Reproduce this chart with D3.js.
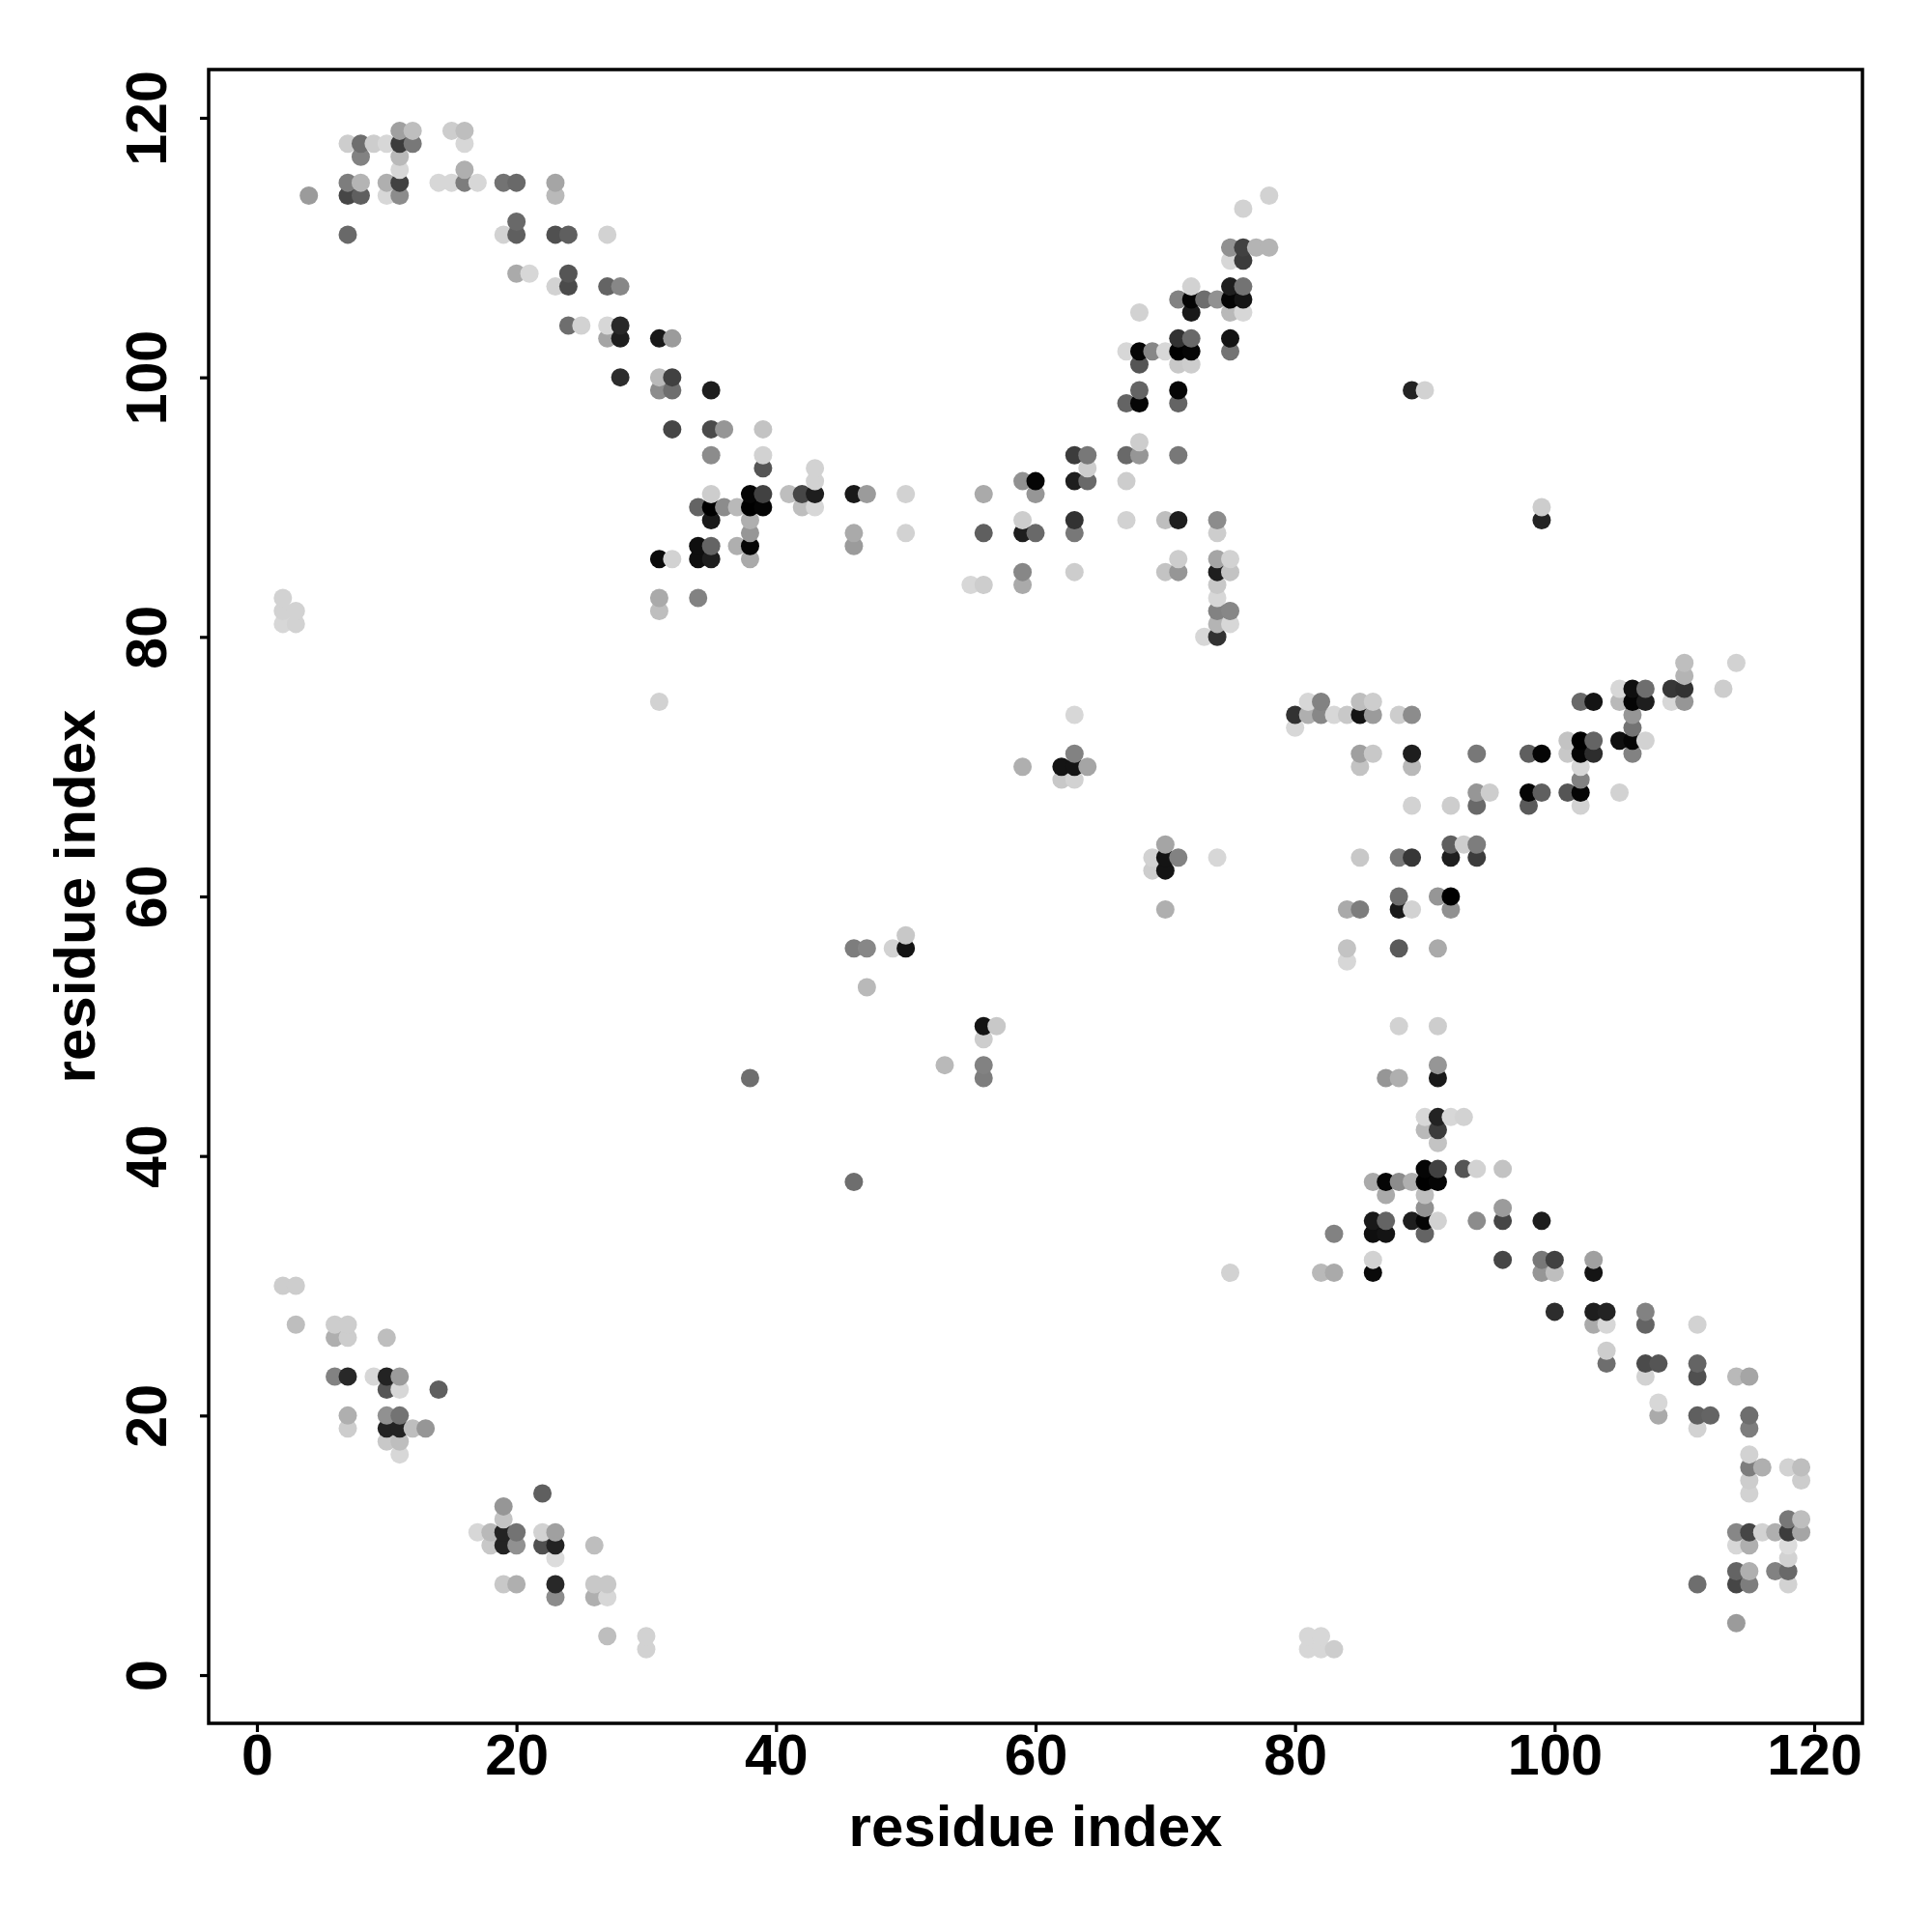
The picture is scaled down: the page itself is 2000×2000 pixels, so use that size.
<!DOCTYPE html>
<html>
<head>
<meta charset="utf-8">
<script src="https://cdn.jsdelivr.net/npm/d3@7"></script>
<style>
html,body{margin:0;padding:0;background:#fff}
svg{display:block}
text{font-family:"Liberation Sans",Arial,Helvetica,sans-serif;font-weight:bold;fill:#000}
</style>
</head>
<body>
<svg id="chart" width="2000" height="2000"></svg>
<script>
const axisLabel = "residue index";
const tickLabels = [0, 20, 40, 60, 80, 100, 120];
const axisLimits = [-3.72, 123.72];

// One row per residue index on the y axis; rowX and rowShade hold that row's points.
const rowY = [119,118,117,116,115,114,113,112,111,110,109,108,107,106,105,104,103,102,101,100,
  99,98,96,95,94,93,92,91,90,89,88,87,86,85,84,83,82,81,80,
  78,77,76,75,74,73,72,71,70,69,68,67,64,63,62,60,59,57,56,55,53,50,49,47,46,
  43,42,41,39,38,37,36,35,34,32,31,30,28,27,26,25,24,23,22,21,20,19,18,17,16,15,14,13,12,11,10,9,8,7,6,4,3,2];

const rowX = [
  [11,12,15,16],
  [7,8,9,10,11,12,16],
  [8,11],
  [11,16],
  [7,8,10,11,14,15,16,17,19,20,23],
  [4,7,8,10,11,23,78],
  [76],
  [20],
  [7,19,20,23,24,27],
  [75,76,77,78],
  [75,76],
  [20,21,24],
  [23,24,27,28,72,75,76],
  [71,72,73,74,75,76],
  [68,72,75,76],
  [24,25,27,28],
  [27,28,31,32,71,72,75],
  [67,68,69,70,71,72,75],
  [68,71,72],
  [28,31,32],
  [31,32,35,68,71,89,90],
  [67,68,71],
  [32,35,36,39],
  [68],
  [35,39,63,64,67,68,71],
  [39,43,64],
  [43,59,60,63,64,67],
  [35,38,39,41,42,43,46,47,50,56,60],
  [34,35,36,37,38,39,42,43,99],
  [35,38,59,63,67,70,71,74,99],
  [38,46,50,56,59,60,63,74],
  [34,35,37,38,46],
  [31,32,34,35,38,71,74,75],
  [59,63,70,71,74,75],
  [55,56,59,74],
  [2,31,34,74],
  [2,3,31,74,75],
  [2,3,74,75],
  [73,74],
  [110,114],
  [110],
  [105,106,107,109,110,113],
  [31,81,82,85,86,102,103,105,106,107,109,110],
  [63,80,81,82,83,84,85,86,88,89,106],
  [80,106],
  [101,102,103,105,106,107],
  [63,85,86,89,94,98,99,101,102,103,106],
  [59,62,63,64,85,89,102],
  [62,63,102],
  [94,95,98,99,101,102,105],
  [89,92,94,98,102],
  [70,92,93,94],
  [69,70,71,74,85,88,89,92,94],
  [69,70],
  [88,91,92],
  [70,84,85,88,89,92],
  [50],
  [46,47,49,50,84,88,91],
  [84],
  [47],
  [56,57,88,91],
  [56],
  [53,56,91],
  [38,56,87,88,91],
  [90,91,92,93],
  [90,91],
  [91],
  [90,91,93,94,96],
  [46,86,87,88,89,90,91],
  [87,90],
  [90,96],
  [86,87,89,90,91,94,96,99],
  [83,86,87,90],
  [86,96,99,100,103],
  [75,82,83,86,99,100,103],
  [2,3],
  [100,103,104,107],
  [3,6,7,103,104,107,111],
  [6,7,10],
  [104],
  [104,107,108,111],
  [6,7,9,10,11,107,111,114,115],
  [10,11,14],
  [108],
  [7,10,11,108,111,112,115],
  [7,10,11,12,13,111,115],
  [10,11],
  [11,115],
  [115,116,118,119],
  [115,119],
  [22,115],
  [19],
  [19,118,119],
  [17,18,19,20,22,23,114,115,116,117,118,119],
  [18,19,20,22,23,26,114,115,118],
  [23,118],
  [114,115,117,118],
  [19,20,23,26,27,111,114,115,118],
  [23,26,27],
  [114],
  [27,30,81,82],
  [30,81,82,83]
];

// Grey level of each point, 0 = black, 255 = white.
const rowShade = [
  [160,190,205,190],
  [205,110,205,215,60,120,215],
  [130,185],
  [215,175],
  [125,180,175,65,215,215,125,215,115,105,165],
  [155,70,95,215,140,185,210],
  [210],
  [105],
  [105,210,95,80,95,210],
  [145,65,180,180],
  [215,60],
  [170,215,85],
  [210,75,100,135,210,30,115],
  [130,5,110,145,5,20],
  [210,25,185,215],
  [110,210,215,40],
  [165,30,25,155,50,105,20],
  [215,5,135,215,0,5,115],
  [85,200,205],
  [45,185,65],
  [140,110,30,100,5,35,210],
  [100,5,100],
  [70,75,150,195],
  [205],
  [140,210,60,120,105,150,120],
  [85,210,205],
  [210,145,5,30,105,205],
  [205,5,65,190,70,30,25,155,210,170,150],
  [100,0,140,185,0,5,190,215,205],
  [25,175,205,50,210,190,30,140,35],
  [150,170,210,95,30,105,120,205],
  [15,100,175,5,155],
  [10,210,15,30,170,205,165,210],
  [135,205,195,150,30,195],
  [215,205,170,200],
  [210,170,130,215],
  [210,210,190,130,135],
  [215,210,180,215],
  [215,50],
  [190,210],
  [180],
  [215,15,110,55,50,205],
  [210,215,130,190,205,105,20,185,5,30,215,150],
  [215,50,175,135,215,200,20,155,205,140,150],
  [215,115],
  [195,0,100,15,5,210],
  [130,160,200,30,120,95,5,200,5,45,130],
  [175,20,20,165,195,185,215],
  [200,210,130],
  [150,205,5,95,85,5,210],
  [210,205,105,90,210],
  [165,95,205,125],
  [210,20,130,215,200,120,55,30,60],
  [205,20],
  [110,150,0],
  [175,170,125,25,210,145],
  [200],
  [125,135,210,20,195,90,170],
  [215],
  [185],
  [20,200,210,205],
  [205],
  [185,130,150],
  [110,125,150,175,25],
  [215,35,215,210],
  [185,60],
  [195],
  [5,65,85,210,195],
  [110,170,5,140,175,0,5],
  [170,190],
  [145,155],
  [25,100,30,5,210,140,70,30],
  [130,15,20,100],
  [210,70,120,65,160],
  [210,185,170,10,150,190,20],
  [205,205],
  [45,30,35,130],
  [190,205,205,170,215,100,210],
  [175,205,190],
  [205],
  [110,75,85,100],
  [130,40,215,35,155,210,80,185,165],
  [85,215,95],
  [215],
  [175,145,115,170,95,100,110],
  [205,35,35,190,150,210,125],
  [200,190],
  [215,210],
  [125,175,210,190],
  [205,205],
  [95,210],
  [150],
  [195,120,190],
  [215,185,35,115,210,160,135,70,210,175,60,165],
  [200,35,145,80,35,190,215,175,220],
  [220,210],
  [100,175,130,105],
  [200,175,40,200,200,110,70,125,210],
  [140,175,215],
  [155],
  [190,210,215,215],
  [210,215,215,205]
];

const points = d3.sort(
  rowY.flatMap((y, r) => rowX[r].map((x, c) => ({x, y, shade: rowShade[r][c]}))),
  (a, b) => a.x - b.x || a.y - b.y
);

const svg = d3.select("#chart");
const box = {left: 216, right: 1928, top: 72, bottom: 1784};
const x = d3.scaleLinear().domain(axisLimits).range([box.left, box.right]);
const y = d3.scaleLinear().domain(axisLimits).range([box.bottom, box.top]);

svg.append("g").selectAll("circle").data(points).join("circle")
  .attr("cx", d => x(d.x))
  .attr("cy", d => y(d.y))
  .attr("r", 9.5)
  .attr("fill", d => d3.rgb(d.shade, d.shade, d.shade));

const xAxis = svg.append("g")
  .attr("transform", `translate(0,${box.bottom})`)
  .call(d3.axisBottom(x).tickValues(tickLabels).tickFormat(d3.format("d")).tickSize(9).tickPadding(2.4));
const yAxis = svg.append("g")
  .attr("transform", `translate(${box.left},0)`)
  .call(d3.axisLeft(y).tickValues(tickLabels).tickFormat(d3.format("d")).tickSize(9));

xAxis.select(".domain").remove();
yAxis.select(".domain").remove();
svg.selectAll(".tick line").attr("stroke", "#000").attr("stroke-width", 3.2);
xAxis.selectAll("text").style("font-size", "59px");
yAxis.selectAll("text")
  .style("font-size", "59px")
  .attr("x", null).attr("dy", null)
  .attr("text-anchor", "middle")
  .attr("transform", "translate(-44,0) rotate(-90)");

svg.append("rect")
  .attr("x", box.left).attr("y", box.top)
  .attr("width", box.right - box.left).attr("height", box.bottom - box.top)
  .attr("fill", "none").attr("stroke", "#000").attr("stroke-width", 3.5);

svg.append("text")
  .attr("x", (box.left + box.right) / 2).attr("y", 1911)
  .attr("text-anchor", "middle").style("font-size", "60px")
  .text(axisLabel);
svg.append("text")
  .attr("transform", `translate(98,${(box.top + box.bottom) / 2}) rotate(-90)`)
  .attr("text-anchor", "middle").style("font-size", "60px")
  .text(axisLabel);
</script>
</body>
</html>
